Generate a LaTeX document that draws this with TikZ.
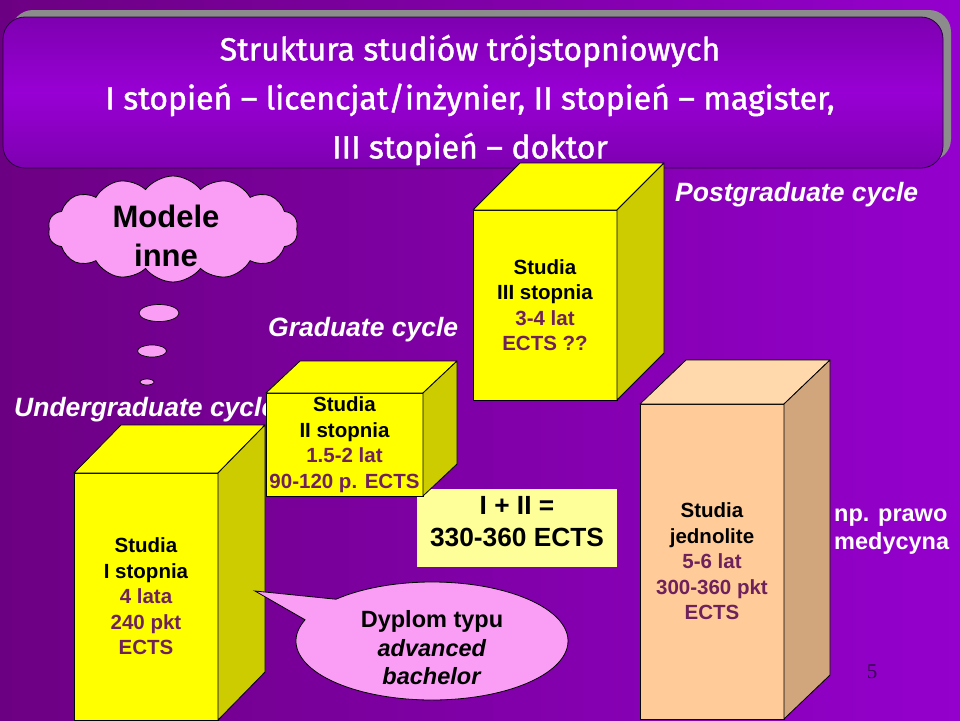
\documentclass[tikz,border=0pt]{standalone}
\usepackage{fontspec}
\setmainfont{Liberation Sans}
\newfontfamily\tytulfont{Fira Sans}[FakeBold=1.3]
\newfontfamily\numerfont{Liberation Serif}
\usetikzlibrary{shapes.geometric,shapes.symbols,shapes.callouts}
\definecolor{BgDark}{RGB}{108,0,130}
\definecolor{BgBright}{RGB}{148,0,205}
\definecolor{BanDark}{RGB}{68,0,100}
\definecolor{BanBright}{RGB}{152,0,212}
\definecolor{BanLine}{RGB}{40,0,60}
\definecolor{Shadow}{RGB}{140,140,140}
\definecolor{Yel}{RGB}{255,255,0}
\definecolor{YelSide}{RGB}{204,204,0}
\definecolor{Peach}{RGB}{255,204,153}
\definecolor{PeachTop}{RGB}{255,217,172}
\definecolor{PeachSide}{RGB}{210,166,124}
\definecolor{Pink}{RGB}{250,158,245}
\definecolor{Maroon}{RGB}{110,34,92}
\definecolor{LtYel}{RGB}{255,255,153}
\definecolor{PageNo}{RGB}{55,5,80}
\newcommand{\Lata}[1]{\textcolor{Maroon}{#1}}
\newcommand{\Bryla}[5]{%
  \filldraw[fill=#5, draw=black, line width=0.8pt, line join=round] (#1.north west) -- ++(#2,-#3)
    -- ([shift={(#2,-#3)}]#1.north east) -- (#1.north east) -- cycle;
  \filldraw[fill=#4, draw=black, line width=0.8pt, line join=round] (#1.north east) -- ++(#2,-#3)
    -- ([shift={(#2,-#3)}]#1.south east) -- (#1.south east) -- cycle;
}

\begin{document}
\begin{tikzpicture}[
  x=1pt, y=-1pt,
  banerpath/.style={rounded corners=22pt},
  face/.style={draw=black, line width=0.8pt, inner sep=0pt, outer sep=0pt, align=center,
    font=\fontsize{20.5}{25.5}\selectfont\bfseries},
  yellowface/.style={face, fill=Yel},
  peachface/.style={face, fill=Peach},
  cyclelabel/.style={text=white, inner sep=0pt, font=\fontsize{26.5}{30}\selectfont\bfseries\itshape},
  bubble/.style={ellipse, draw=black, line width=0.7pt, fill=Pink, inner sep=0pt}
]
  \useasboundingbox (0,0) rectangle (960,720);
  \shade[left color=BgDark, right color=BgBright] (0,0) rectangle (960,720);

  % title banner
  \fill[Shadow, banerpath] (11,10) rectangle (951,161);
  \begin{scope}
    \clip[banerpath] (3,17) rectangle (943,168);
    \shade[top color=BanDark, bottom color=BanDark, middle color=BanBright,
      rotate around={9.1:(473,92.5)}] (-80,-60) rectangle (1026,245);
  \end{scope}
  \draw[BanLine, line width=0.8pt, banerpath] (3,17) rectangle (943,168);
  \node[text=white, font=\tytulfont\fontsize{32}{49}\selectfont, align=center] (tytul) at (470,100)
    {Struktura studiów trójstopniowych\\
     I stopień – licencjat/inżynier, II stopień – magister,\\
     III stopień – doktor};

  \node[cloud, cloud puffs=14, cloud puff arc=105, aspect=2.4, draw=black, line width=0.8pt, fill=Pink,
    minimum width=250, minimum height=106, inner sep=0pt] (chmura) at (173,229) {};
  \node[font=\fontsize{31}{39}\selectfont\bfseries, align=center] (modele) at (166,236) {Modele\\inne};
  \node[bubble, minimum width=40, minimum height=17] (bub1) at (159,313) {};
  \node[bubble, minimum width=29, minimum height=12] (bub2) at (152,351) {};
  \node[bubble, minimum width=14, minimum height=6] (bub3) at (147,382) {};

  \node[cyclelabel, anchor=base west] (grad) at (268,336) {Graduate cycle};
  \node[cyclelabel, anchor=base west] (postgrad) at (675,201) {Postgraduate cycle};

  \node[yellowface, minimum width=144, minimum height=190] (st3) at (545,305)
    {Studia\\III stopnia\\\Lata{3-4 lat}\\\Lata{ECTS ??}};
  \Bryla{st3}{47}{47}{YelSide}{Yel}

  \node[peachface, minimum width=144, minimum height=315] (jedn) at (712,561.5)
    {Studia\\jednolite\\\Lata{5-6 lat}\\\Lata{300-360 pkt}\\\Lata{ECTS}};
  \Bryla{jedn}{46}{44}{PeachSide}{PeachTop}
  \node[text=white, font=\fontsize{23.5}{28}\selectfont\bfseries, align=left, anchor=west, inner sep=0pt]
    (przyklad) at (834,532) {np. prawo\\medycyna};

  \node[cyclelabel, anchor=base west] (undergrad) at (14,416) {Undergraduate cycle};

  \node[fill=LtYel, minimum width=200, minimum height=78] (suma) at (517,528) {};
  \node[font=\fontsize{26.3}{32}\selectfont\bfseries, align=center] (sumatxt) at (517,522)
    {I + II =\\330-360 ECTS};

  \node[yellowface, minimum width=157, minimum height=103] (st2) at (344.5,444.5)
    {Studia\\II stopnia\\\Lata{1.5-2 lat}\\\Lata{90-120 p. ECTS}};
  \Bryla{st2}{34}{32}{YelSide}{Yel}

  \node[yellowface, minimum width=144, minimum height=247] (st1) at (146,596.5)
    {Studia\\I stopnia\\\Lata{4 lata}\\\Lata{240 pkt}\\\Lata{ECTS}};
  \Bryla{st1}{47}{48}{YelSide}{Yel}

  \coordinate (tip) at (255,591);
  \node[ellipse callout, callout absolute pointer={(tip)}, callout pointer arc=24,
    draw=black, line width=0.8pt, fill=Pink, minimum width=272, minimum height=118,
    inner sep=0pt] (dyplom) at (432,641) {};
  \node[font=\fontsize{23.5}{28.5}\selectfont\bfseries, align=center] (dyplomtxt) at (432,648)
    {Dyplom typu\\\textit{advanced}\\\textit{bachelor}};

  \node[font=\numerfont\fontsize{21}{21}\selectfont, text=PageNo] (nr) at (872,672) {5};
\end{tikzpicture}
\end{document}
